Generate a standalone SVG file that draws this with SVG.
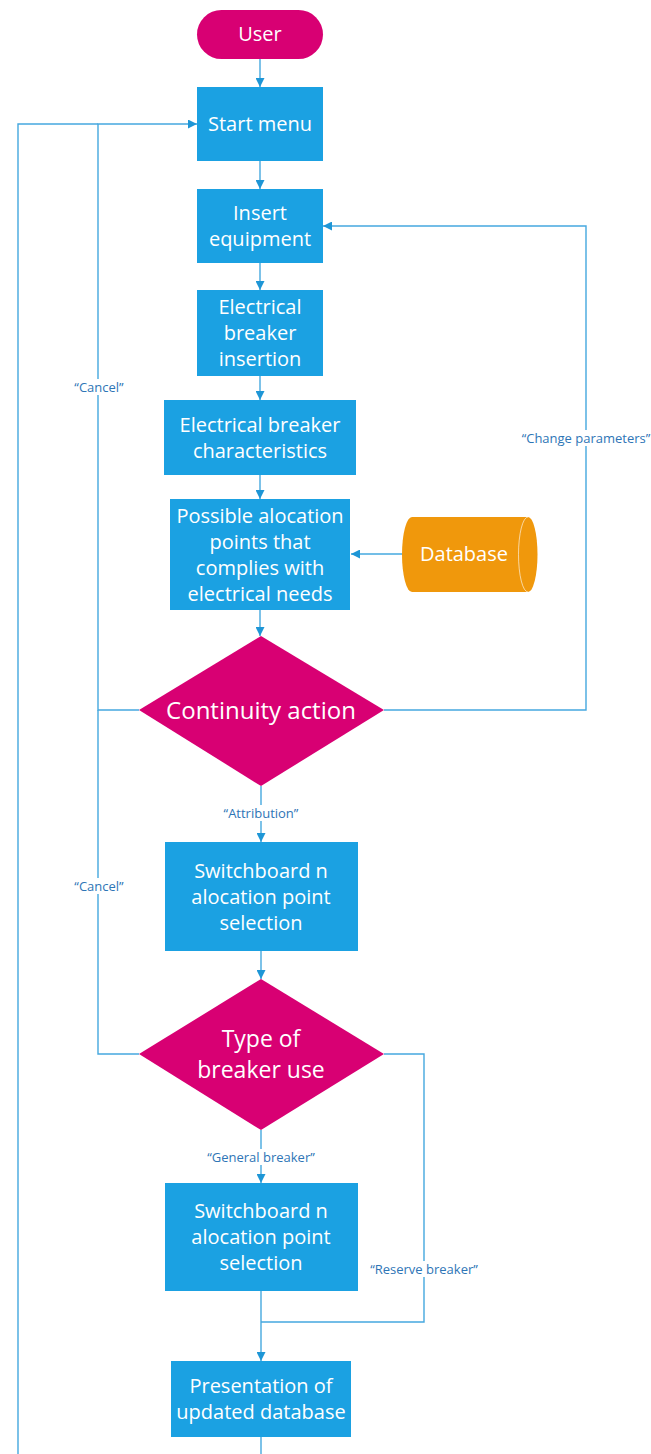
<svg xmlns="http://www.w3.org/2000/svg" width="651" height="1454" viewBox="0 0 651 1454">
  <style>
    .box { fill: #1ba1e2; }
    .pink { fill: #d80073; }
    .db { fill: #f0980c; }
    .t { font-family: "Open Sans", "Liberation Sans", sans-serif; fill: #ffffff; text-anchor: middle; dominant-baseline: central; font-size: 20px; }
    .tb { font-size: 24px; }
    .tm { font-size: 23px; }
    .wire { fill: none; stroke: #45a8df; stroke-width: 1.4; }
    .arrow { marker-end: url(#head); }
    .lbl { font-family: "Open Sans", "Liberation Sans", sans-serif; font-size: 13px; fill: #2e75b6; text-anchor: middle; dominant-baseline: central; }
    .lblbg { fill: #ffffff; }
  </style>
  <defs>
    <marker id="head" viewBox="0 0 10 10" refX="10" refY="5" markerWidth="9" markerHeight="9" markerUnits="userSpaceOnUse" orient="auto">
      <path d="M0,0 L10,5 L0,10 Z" fill="#1e96d6"/>
    </marker>
  </defs>

  <rect width="651" height="1454" fill="#ffffff"/>

  <!-- connectors -->
  <g id="connectors">
    <path class="wire arrow" d="M260,59 L260,87"/>
    <path class="wire arrow" d="M260,161 L260,189"/>
    <path class="wire arrow" d="M260,263 L260,290"/>
    <path class="wire arrow" d="M260,376 L260,400"/>
    <path class="wire arrow" d="M260,475 L260,499"/>
    <path class="wire arrow" d="M260,610 L260,636"/>
    <path class="wire arrow" d="M402,554 L351,554"/>
    <!-- cancel loops back to start menu -->
    <path class="wire arrow" d="M139,710 L98,710 L98,124 L197,124"/>
    <path class="wire" d="M139,1054 L98,1054 L98,710"/>
    <!-- return loop from the bottom -->
    <path class="wire" d="M18,1454 L18,124 L98,124"/>
    <!-- change parameters -->
    <path class="wire arrow" d="M384,710 L586,710 L586,226 L323,226"/>
    <!-- attribution -->
    <path class="wire arrow" d="M261,786 L261,842"/>
    <path class="wire arrow" d="M261,951 L261,979"/>
    <!-- general breaker -->
    <path class="wire arrow" d="M261,1130 L261,1183"/>
    <!-- reserve breaker -->
    <path class="wire" d="M384,1054 L424,1054 L424,1322 L261,1322"/>
    <path class="wire arrow" d="M261,1291 L261,1361"/>
    <path class="wire" d="M261,1437 L261,1454"/>

    <!-- connector labels -->
    <rect class="lblbg" x="70" y="379" width="58" height="16"/>
    <text class="lbl" x="99" y="387">“Cancel”</text>
    <rect class="lblbg" x="70" y="878" width="58" height="16"/>
    <text class="lbl" x="99" y="886">“Cancel”</text>
    <rect class="lblbg" x="518" y="430" width="133" height="16"/>
    <text class="lbl" x="586" y="438">“Change parameters”</text>
    <rect class="lblbg" x="218" y="805" width="86" height="16"/>
    <text class="lbl" x="261" y="813">“Attribution”</text>
    <rect class="lblbg" x="202" y="1149" width="118" height="16"/>
    <text class="lbl" x="261" y="1157">“General breaker”</text>
    <rect class="lblbg" x="366" y="1261" width="116" height="16"/>
    <text class="lbl" x="424" y="1269">“Reserve breaker”</text>
  </g>

  <g id="user">
    <rect class="pink" x="197" y="10" width="126" height="49" rx="24.5"/>
    <text class="t" x="260" y="33.5">User</text>
  </g>

  <g id="start-menu">
    <rect class="box" x="197" y="87" width="126" height="74"/>
    <text class="t" x="260" y="123.5">Start menu</text>
  </g>

  <g id="insert-equipment">
    <rect class="box" x="197" y="189" width="126" height="74"/>
    <text class="t" x="260" y="212.5">Insert</text>
    <text class="t" x="260" y="238.5">equipment</text>
  </g>

  <g id="breaker-insertion">
    <rect class="box" x="197" y="290" width="126" height="86"/>
    <text class="t" x="260" y="306.5">Electrical</text>
    <text class="t" x="260" y="332.5">breaker</text>
    <text class="t" x="260" y="358.5">insertion</text>
  </g>

  <g id="breaker-characteristics">
    <rect class="box" x="164" y="400" width="192" height="75"/>
    <text class="t" x="260" y="424.5">Electrical breaker</text>
    <text class="t" x="260" y="450.5">characteristics</text>
  </g>

  <g id="allocation-points">
    <rect class="box" x="170" y="499" width="180" height="111"/>
    <text class="t" x="260" y="515.5">Possible alocation</text>
    <text class="t" x="260" y="541.5">points that</text>
    <text class="t" x="260" y="567.5">complies with</text>
    <text class="t" x="260" y="593.5">electrical needs</text>
  </g>

  <g id="database">
    <path class="db" d="M412,517 L528,517 A9.5,37.5 0 0 1 528,592 L412,592 A10,37.5 0 0 1 412,517 Z"/>
    <path d="M528,517 A9.5,37.5 0 0 0 528,592" fill="none" stroke="#ffffff" stroke-opacity="0.6" stroke-width="1"/>
    <text class="t" x="464" y="553.5">Database</text>
  </g>

  <g id="continuity-action">
    <path class="pink" d="M261,636 L384,710 L261,786 L139,710 Z"/>
    <text class="t tb" x="261" y="709.5">Continuity action</text>
  </g>

  <g id="switchboard-selection-1">
    <rect class="box" x="165" y="842" width="193" height="109"/>
    <text class="t" x="261" y="870.5">Switchboard n</text>
    <text class="t" x="261" y="896.5">alocation point</text>
    <text class="t" x="261" y="922.5">selection</text>
  </g>

  <g id="breaker-use">
    <path class="pink" d="M261,979 L384,1054 L261,1130 L139,1054 Z"/>
    <text class="t tm" x="261" y="1038">Type of</text>
    <text class="t tm" x="261" y="1069">breaker use</text>
  </g>

  <g id="switchboard-selection-2">
    <rect class="box" x="165" y="1183" width="193" height="108"/>
    <text class="t" x="261" y="1210.5">Switchboard n</text>
    <text class="t" x="261" y="1236.5">alocation point</text>
    <text class="t" x="261" y="1262.5">selection</text>
  </g>

  <g id="updated-database">
    <rect class="box" x="171" y="1361" width="180" height="76"/>
    <text class="t" x="261" y="1385.5">Presentation of</text>
    <text class="t" x="261" y="1411.5">updated database</text>
  </g>
</svg>
